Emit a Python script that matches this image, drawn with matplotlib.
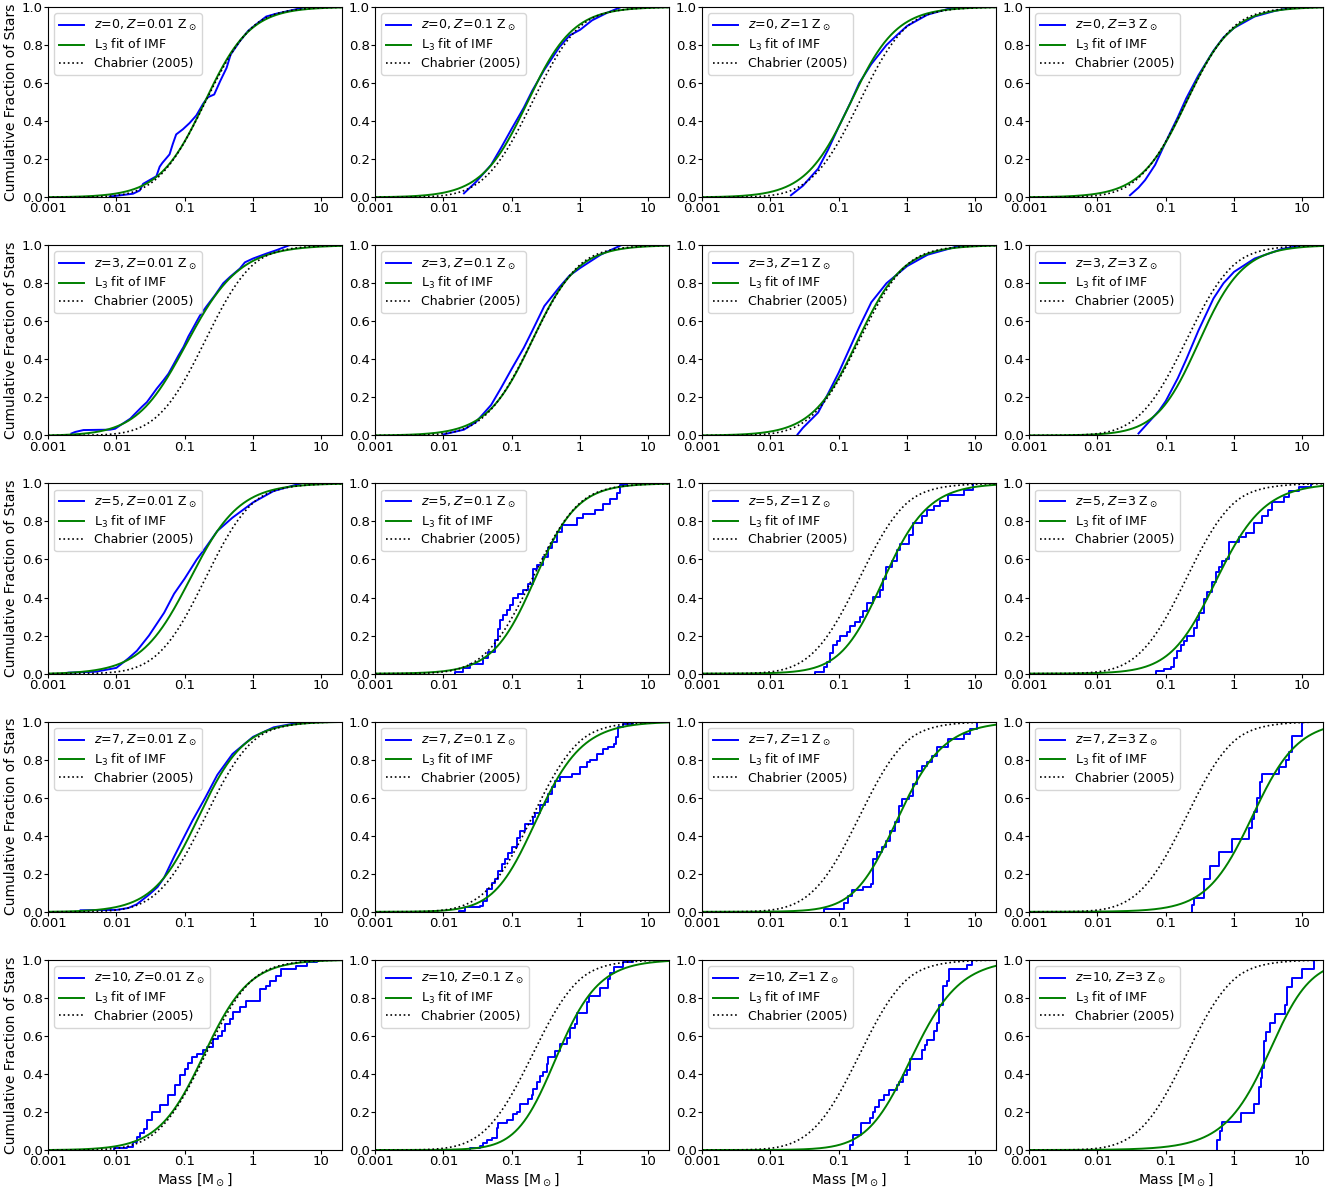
import numpy as np
import matplotlib
matplotlib.use("Agg")
import matplotlib.pyplot as plt
from matplotlib.ticker import NullLocator

# ---------------------------------------------------------------------------
# Grid layout: rows are redshift, columns are metallicity (in solar units)
# ---------------------------------------------------------------------------
redshifts = [0, 3, 5, 7, 10]
metallicities = ["0.01", "0.1", "1", "3"]

xticks = [0.001, 0.01, 0.1, 1, 10]
xticklabels = ["0.001", "0.01", "0.1", "1", "10"]
yticks = [0.0, 0.2, 0.4, 0.6, 0.8, 1.0]

# ---------------------------------------------------------------------------
# Simulated stellar mass distributions: knots of the cumulative distribution
# (mass in Msun, cumulative fraction reached at that mass)
# ---------------------------------------------------------------------------
# z = 0
m_z0_Z001 = [0.008, 0.0175, 0.022, 0.0246, 0.0385, 0.043, 0.047, 0.06, 0.067, 0.075, 0.094,
             0.118, 0.148, 0.185, 0.217, 0.27, 0.33, 0.41, 0.47, 0.64, 0.85, 1.12, 1.56, 2.2,
             3.4, 5.9]
f_z0_Z001 = [0.003, 0.018, 0.035, 0.07, 0.11, 0.16, 0.18, 0.225, 0.28, 0.33, 0.357,
             0.39, 0.43, 0.49, 0.525, 0.54, 0.61, 0.68, 0.75, 0.82, 0.875, 0.91, 0.95, 0.965,
             0.98, 1.0]
m_z0_Z01 = [0.02, 0.03, 0.05, 0.07, 0.1, 0.15, 0.2, 0.3, 0.5, 0.7, 1.0, 1.5, 2.5, 4.0]
f_z0_Z01 = [0.02, 0.08, 0.17, 0.26, 0.36, 0.47, 0.56, 0.67, 0.79, 0.85, 0.88, 0.93, 0.97, 1.0]
m_z0_Z1 = [0.02, 0.03, 0.05, 0.07, 0.1, 0.15, 0.2, 0.3, 0.5, 0.7, 1.0, 2.0, 4.0, 7.0]
f_z0_Z1 = [0.01, 0.06, 0.15, 0.25, 0.37, 0.5, 0.6, 0.7, 0.8, 0.85, 0.9, 0.96, 0.99, 1.0]
m_z0_Z3 = [0.03, 0.04, 0.05, 0.07, 0.1, 0.15, 0.2, 0.3, 0.5, 0.7, 1.0, 2.0, 4.0, 8.0]
f_z0_Z3 = [0.01, 0.05, 0.09, 0.17, 0.29, 0.42, 0.52, 0.64, 0.77, 0.84, 0.89, 0.95, 0.98, 1.0]

# z = 3
m_z3_Z001 = [0.0022, 0.0025, 0.0033, 0.0081, 0.0096, 0.0114, 0.016, 0.0188, 0.0236, 0.028,
             0.033, 0.039, 0.049, 0.058, 0.068, 0.081, 0.096, 0.113, 0.126, 0.15, 0.167,
             0.21, 0.277, 0.366, 0.459, 0.64, 0.76, 1.0, 1.57, 2.2, 3.4]
f_z3_Z001 = [0.01, 0.018, 0.028, 0.03, 0.035, 0.053, 0.088, 0.114, 0.15, 0.175,
             0.21, 0.246, 0.29, 0.325, 0.37, 0.42, 0.465, 0.52, 0.55, 0.6, 0.63,
             0.68, 0.737, 0.8, 0.833, 0.877, 0.91, 0.93, 0.956, 0.974, 1.0]
m_z3_Z01 = [0.01, 0.02, 0.03, 0.05, 0.07, 0.1, 0.15, 0.2, 0.3, 0.5, 0.7, 1.0, 2.0, 4.0]
f_z3_Z01 = [0.005, 0.03, 0.07, 0.16, 0.25, 0.35, 0.46, 0.55, 0.68, 0.78, 0.84, 0.88, 0.95, 1.0]
m_z3_Z1 = [0.025, 0.03, 0.05, 0.07, 0.1, 0.15, 0.2, 0.3, 0.5, 1.0, 2.0, 5.0, 8.0]
f_z3_Z1 = [0.005, 0.04, 0.12, 0.22, 0.33, 0.47, 0.57, 0.7, 0.8, 0.89, 0.95, 0.99, 1.0]
m_z3_Z3 = [0.04, 0.06, 0.08, 0.1, 0.15, 0.2, 0.3, 0.5, 0.7, 1.0, 2.0, 5.0, 10.0]
f_z3_Z3 = [0.01, 0.08, 0.13, 0.18, 0.3, 0.4, 0.55, 0.72, 0.8, 0.86, 0.93, 0.98, 1.0]

# z = 5
m_z5_Z001 = [0.002, 0.005, 0.01, 0.015, 0.02, 0.03, 0.05, 0.07, 0.1, 0.15, 0.2, 0.3, 0.5,
             1.0, 2.0, 5.0]
f_z5_Z001 = [0.005, 0.01, 0.03, 0.08, 0.12, 0.2, 0.32, 0.42, 0.5, 0.6, 0.66, 0.75, 0.82,
             0.9, 0.96, 1.0]
m_z5_Z01 = [0.0148, 0.0196, 0.0246, 0.0385, 0.0456, 0.057, 0.0638, 0.0675, 0.0755, 0.0845,
            0.0945, 0.106, 0.125, 0.148, 0.175, 0.207, 0.232, 0.29, 0.344, 0.385, 0.455,
            0.54, 0.89, 1.12, 1.66, 2.2, 2.75, 3.45, 3.86, 4.8]
f_z5_Z01 = [0.008, 0.028, 0.053, 0.08, 0.114, 0.175, 0.237, 0.28, 0.307, 0.333,
            0.36, 0.395, 0.42, 0.44, 0.47, 0.55, 0.57, 0.614, 0.66, 0.69, 0.745,
            0.78, 0.82, 0.84, 0.86, 0.89, 0.917, 0.947, 0.99, 1.0]
m_z5_Z1 = [0.045, 0.061, 0.067, 0.075, 0.0836, 0.0935, 0.1045, 0.131, 0.146, 0.173, 0.205,
           0.23, 0.257, 0.32, 0.40, 0.45, 0.50, 0.596, 0.705, 0.79, 1.05, 1.24, 1.64, 1.94,
           2.44, 3.06, 4.0, 6.7, 9.3]
f_z5_Z1 = [0.01, 0.035, 0.06, 0.11, 0.15, 0.17, 0.2, 0.22, 0.25, 0.27, 0.3,
           0.33, 0.37, 0.405, 0.44, 0.5, 0.56, 0.59, 0.65, 0.68, 0.73, 0.79, 0.83, 0.86,
           0.88, 0.91, 0.94, 0.965, 1.0]
m_z5_Z3 = [0.0714, 0.0945, 0.118, 0.132, 0.148, 0.166, 0.185, 0.207, 0.26, 0.29, 0.307,
           0.364, 0.407, 0.48, 0.54, 0.60, 0.675, 0.755, 0.84, 1.18, 1.48, 1.96, 2.6, 3.1,
           3.6, 5.4, 6.4, 8.9, 13.2]
f_z5_Z3 = [0.012, 0.023, 0.035, 0.08, 0.12, 0.15, 0.17, 0.2, 0.24, 0.28, 0.32,
           0.39, 0.43, 0.48, 0.535, 0.56, 0.59, 0.605, 0.69, 0.72, 0.74, 0.79, 0.83, 0.86,
           0.9, 0.93, 0.96, 0.98, 1.0]

# z = 7
m_z7_Z001 = [0.003, 0.01, 0.015, 0.02, 0.03, 0.04, 0.05, 0.07, 0.1, 0.13, 0.2, 0.3, 0.5,
             1.0, 2.0, 4.0, 8.0]
f_z7_Z001 = [0.008, 0.01, 0.02, 0.04, 0.09, 0.13, 0.18, 0.29, 0.4, 0.48, 0.6, 0.72, 0.83,
             0.92, 0.97, 0.99, 1.0]
m_z7_Z01 = [0.0171, 0.0208, 0.0344, 0.0385, 0.043, 0.051, 0.057, 0.0638, 0.0714, 0.08,
            0.0894, 0.1, 0.118, 0.132, 0.157, 0.207, 0.22, 0.26, 0.307, 0.344, 0.385, 0.43,
            0.51, 0.755, 1.0, 1.25, 1.4, 1.75, 2.2, 2.6, 3.1, 3.4, 3.6, 4.3, 6.0]
f_z7_Z01 = [0.005, 0.023, 0.032, 0.058, 0.12, 0.154, 0.17, 0.216, 0.25, 0.28,
            0.31, 0.34, 0.39, 0.426, 0.46, 0.5, 0.52, 0.56, 0.575, 0.62, 0.655, 0.69,
            0.707, 0.725, 0.76, 0.786, 0.80, 0.83, 0.856, 0.865, 0.88, 0.92, 0.97, 0.99, 1.0]
m_z7_Z1 = [0.061, 0.12, 0.138, 0.155, 0.23, 0.30, 0.32, 0.36, 0.43, 0.49, 0.56, 0.67, 0.75,
           0.84, 1.05, 1.24, 1.38, 1.64, 1.94, 2.3, 2.7, 4.0, 6.7, 8.4, 10.5]
f_z7_Z1 = [0.014, 0.046, 0.084, 0.112, 0.128, 0.146, 0.277, 0.312, 0.339, 0.374, 0.426, 0.47,
           0.558, 0.593, 0.61, 0.672, 0.742, 0.768, 0.786, 0.82, 0.865, 0.909, 0.935, 0.96, 1.0]
m_z7_Z3 = [0.245, 0.26, 0.364, 0.445, 0.60, 0.946, 1.66, 1.82, 1.96, 2.19, 2.38, 2.6, 4.56,
           5.7, 6.4, 7.1, 10.0]
f_z7_Z3 = [0.035, 0.07, 0.172, 0.242, 0.312, 0.382, 0.442, 0.488, 0.523, 0.60, 0.68, 0.725,
           0.76, 0.80, 0.84, 0.926, 1.0]

# z = 10
m_z10_Z001 = [0.0091, 0.0142, 0.0178, 0.0199, 0.0223, 0.025, 0.028, 0.033, 0.0437, 0.0578,
              0.0722, 0.0855, 0.101, 0.113, 0.1265, 0.15, 0.187, 0.21, 0.262, 0.31, 0.347,
              0.388, 0.458, 0.513, 0.64, 0.80, 1.26, 1.57, 1.76, 2.2, 2.6, 4.3, 6.05, 8.5]
f_z10_Z001 = [0.01, 0.018, 0.044, 0.07, 0.087, 0.113, 0.157, 0.2, 0.236, 0.288,
              0.34, 0.393, 0.428, 0.46, 0.49, 0.506, 0.524, 0.54, 0.585, 0.6, 0.628,
              0.663, 0.69, 0.724, 0.75, 0.785, 0.846, 0.864, 0.89, 0.916, 0.95, 0.97, 0.986, 1.0]
m_z10_Z01 = [0.0246, 0.0344, 0.0385, 0.043, 0.051, 0.060, 0.0638, 0.0845, 0.106, 0.118,
             0.132, 0.175, 0.196, 0.207, 0.232, 0.26, 0.29, 0.325, 0.344, 0.43, 0.51, 0.64,
             0.71, 0.84, 0.89, 1.25, 1.33, 1.97, 2.6, 2.75, 3.1, 4.3, 6.0]
f_z10_Z01 = [0.01, 0.023, 0.035, 0.05, 0.065, 0.115, 0.14, 0.16, 0.19, 0.2,
             0.24, 0.27, 0.29, 0.32, 0.36, 0.39, 0.41, 0.45, 0.49, 0.52, 0.56, 0.59,
             0.64, 0.66, 0.72, 0.78, 0.81, 0.85, 0.9, 0.93, 0.96, 0.99, 1.0]
m_z10_Z1 = [0.147, 0.164, 0.212, 0.287, 0.314, 0.34, 0.39, 0.466, 0.545, 0.707, 0.77, 0.88,
            0.99, 1.1, 1.63, 1.84, 1.99, 2.44, 2.73, 2.97, 3.4, 3.8, 4.15, 7.5, 8.8]
f_z10_Z1 = [0.026, 0.08, 0.143, 0.166, 0.2, 0.227, 0.265, 0.288, 0.314, 0.34, 0.36, 0.395,
            0.42, 0.48, 0.524, 0.55, 0.58, 0.628, 0.67, 0.76, 0.86, 0.89, 0.95, 0.975, 1.0]
m_z10_Z3 = [0.57, 0.62, 0.675, 1.25, 1.96, 2.32, 2.45, 2.6, 2.75, 2.9, 3.3, 4.0, 5.5, 6.0,
            7.0, 9.8, 15.0]
f_z10_Z3 = [0.052, 0.10, 0.148, 0.192, 0.24, 0.333, 0.381, 0.429, 0.571, 0.619, 0.667,
            0.714, 0.762, 0.857, 0.905, 0.952, 1.0]

# ---------------------------------------------------------------------------
# L3 fits of the IMF per panel: (mu, alpha, beta)
# ---------------------------------------------------------------------------
l3_z0 = [(0.196, 2.3, 2.0), (0.17, 2.3, 2.0), (0.15, 2.3, 2.0), (0.20, 2.3, 2.0)]
l3_z3 = [(0.081, 2.067, 2.3), (0.20, 2.3, 2.0), (0.19, 2.3, 2.0), (0.26, 2.3, 2.2)]
l3_z5 = [(0.12, 2.2, 2.0), (0.22, 2.4, 2.0), (0.35, 2.26, 2.3), (0.42, 2.17, 2.3)]
l3_z7 = [(0.16, 2.3, 2.0), (0.155, 2.2, 2.5), (0.48, 2.185, 2.5), (1.85, 2.3, 2.0)]
l3_z10 = [(0.19, 2.3, 2.0), (0.31, 2.3, 2.5), (0.77, 2.145, 2.5), (4.4, 2.54, 1.7)]

# panels with few stars are drawn as explicit staircases
step_panels = {(5, "0.1"), (5, "1"), (5, "3"), (7, "0.1"), (7, "1"), (7, "3"),
               (10, "0.01"), (10, "0.1"), (10, "1"), (10, "3")}

masses = [
    [m_z0_Z001, m_z0_Z01, m_z0_Z1, m_z0_Z3],
    [m_z3_Z001, m_z3_Z01, m_z3_Z1, m_z3_Z3],
    [m_z5_Z001, m_z5_Z01, m_z5_Z1, m_z5_Z3],
    [m_z7_Z001, m_z7_Z01, m_z7_Z1, m_z7_Z3],
    [m_z10_Z001, m_z10_Z01, m_z10_Z1, m_z10_Z3],
]
fractions = [
    [f_z0_Z001, f_z0_Z01, f_z0_Z1, f_z0_Z3],
    [f_z3_Z001, f_z3_Z01, f_z3_Z1, f_z3_Z3],
    [f_z5_Z001, f_z5_Z01, f_z5_Z1, f_z5_Z3],
    [f_z7_Z001, f_z7_Z01, f_z7_Z1, f_z7_Z3],
    [f_z10_Z001, f_z10_Z01, f_z10_Z1, f_z10_Z3],
]
l3_params = [l3_z0, l3_z3, l3_z5, l3_z7, l3_z10]


def l3_cdf(m, mu, alpha, beta, m_lo=1e-3, m_hi=150.0):
    """Cumulative distribution of the L3 IMF (Maschberger 2013)."""
    def aux(x):
        return (1.0 + (x / mu) ** (1.0 - alpha)) ** (1.0 - beta)
    return (aux(m) - aux(m_lo)) / (aux(m_hi) - aux(m_lo))


def chabrier_cdf(m):
    """Cumulative number fraction for the Chabrier (2005) single-star IMF."""
    grid = np.logspace(-3, 2, 4000)
    lg = np.log10(grid)
    xi = np.where(grid <= 1.0,
                  0.093 * np.exp(-(lg - np.log10(0.2)) ** 2 / (2 * 0.55 ** 2)),
                  0.041 * grid ** -1.35)
    cum = np.concatenate([[0.0], np.cumsum(0.5 * (xi[1:] + xi[:-1]) * np.diff(lg))])
    cum /= cum[-1]
    return np.interp(m, grid, cum)


mgrid = np.logspace(-3, np.log10(20), 600)
chab = chabrier_cdf(mgrid)

fig, axes = plt.subplots(5, 4, figsize=(13.43, 11.9), dpi=100)
fig.subplots_adjust(left=48 / 1343, right=1323 / 1343, top=1 - 7 / 1190,
                    bottom=1 - 1150 / 1190, wspace=33 / 294, hspace=48 / 190)

for i, z in enumerate(redshifts):
    for j, Z in enumerate(metallicities):
        ax = axes[i, j]
        m = np.asarray(masses[i][j])
        f = np.asarray(fractions[i][j])
        label = rf"$z$={z}, $Z$={Z} Z$_\odot$"
        if (z, Z) in step_panels:
            ax.plot(np.concatenate([[m[0]], m]), np.concatenate([[0.0], f]),
                    drawstyle="steps-post", color="blue", lw=1.4, label=label)
        else:
            ax.plot(m, f, color="blue", lw=1.4, label=label)
        mu, alpha, beta = l3_params[i][j]
        ax.plot(mgrid, l3_cdf(mgrid, mu, alpha, beta), color="green", lw=1.4,
                label=r"L$_3$ fit of IMF")
        ax.plot(mgrid, chab, color="black", ls=":", lw=1.2, label="Chabrier (2005)")

        ax.set_xscale("log")
        ax.set_xlim(0.001, 20)
        ax.set_ylim(0.0, 1.0)
        ax.set_xticks(xticks)
        ax.set_xticklabels(xticklabels)
        ax.xaxis.set_minor_locator(NullLocator())
        ax.set_yticks(yticks)
        ax.tick_params(labelsize=9.5, length=3, pad=0.8)
        ax.legend(loc="upper left", fontsize=9, labelspacing=0.3)
        if j == 0:
            ax.set_ylabel("Cumulative Fraction of Stars", fontsize=10, labelpad=3)
        if i == len(redshifts) - 1:
            ax.set_xlabel(r"Mass [M$_\odot$]", fontsize=10, labelpad=2)

fig.savefig("out.png", dpi=100)
